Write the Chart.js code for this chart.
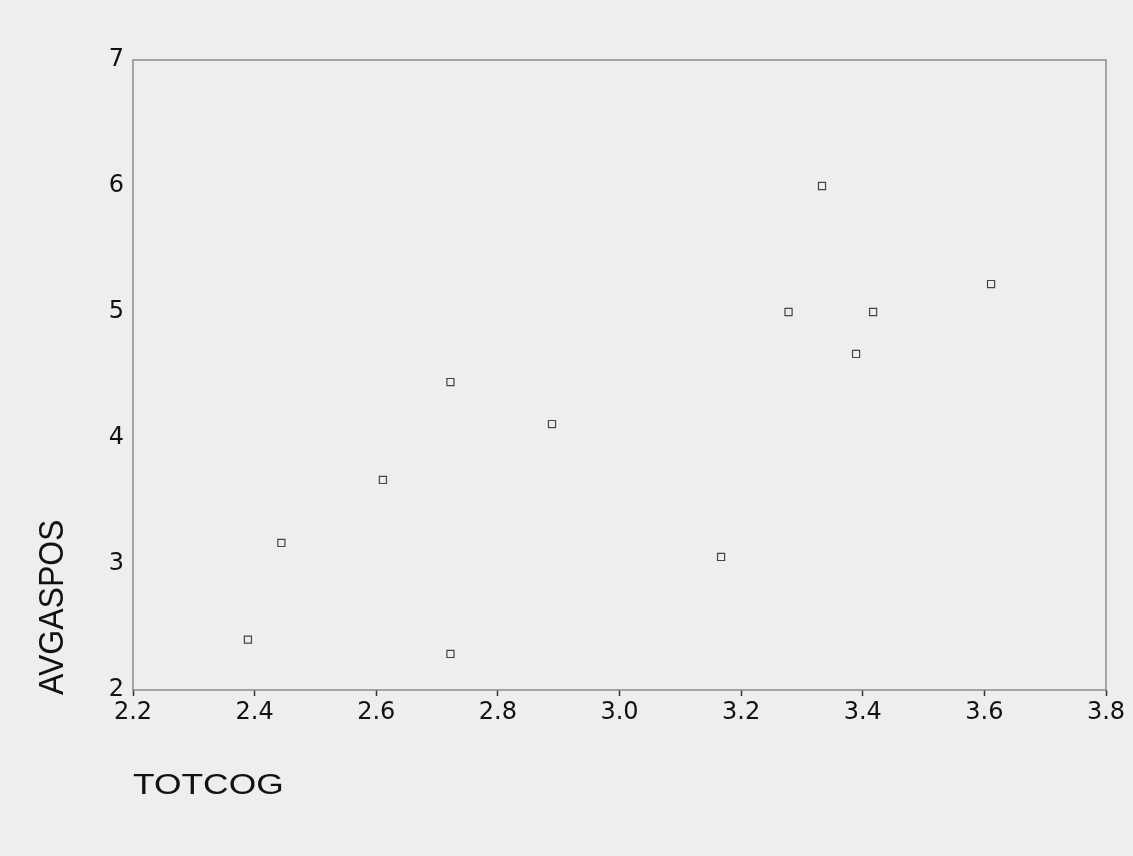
<!DOCTYPE html>
<html>
<head>
<meta charset="utf-8">
<script src="https://cdn.jsdelivr.net/npm/chart.js@4/dist/chart.umd.min.js"></script>
<style>
  html, body { margin: 0; padding: 0; background: #eeeeee; }
  #wrap { width: 1133px; height: 856px; }
</style>
</head>
<body>
<div id="wrap"><canvas id="c" width="1133" height="856"></canvas></div>
<script>
// Scatter of TOTCOG (x) against AVGASPOS (y)
const totcog   = [2.389, 2.444, 2.611, 2.722, 2.722, 2.889, 3.167, 3.278, 3.333, 3.389, 3.417, 3.611];
const avgaspos = [2.400, 3.167, 3.667, 4.444, 2.286, 4.111, 3.056, 5.000, 6.000, 4.667, 5.000, 5.222];
const xTicks = [2.2, 2.4, 2.6, 2.8, 3.0, 3.2, 3.4, 3.6, 3.8];
const yTicks = [2, 3, 4, 5, 6, 7];
const xTitle = 'TOTCOG';
const yTitle = 'AVGASPOS';

const points = totcog.map((x, i) => ({ x: x, y: avgaspos[i] }));

const TICK_FONT = '"DejaVu Sans", "Liberation Sans", sans-serif';
const TITLE_FONT = '"Liberation Sans", Arial, sans-serif';
const AXIS = '#8c8c8c';

// page background and the frame around the plot area
const framePlugin = {
  id: 'frame',
  beforeDraw(chart) {
    const ctx = chart.ctx;
    ctx.save();
    ctx.fillStyle = '#eeeeee';
    ctx.fillRect(0, 0, chart.width, chart.height);
    ctx.restore();
  },
  afterDatasetsDraw(chart) {
    const { ctx, chartArea: a } = chart;
    ctx.save();
    ctx.strokeStyle = AXIS;
    ctx.lineWidth = 1.5;
    ctx.strokeRect(a.left, a.top, a.right - a.left, a.bottom - a.top);
    ctx.restore();
  }
};

// axis titles in a wide sans face: x title under the left end of the axis,
// y title rotated and running up from the bottom left
const titlePlugin = {
  id: 'axisTitles',
  afterDraw(chart) {
    const { ctx, chartArea: a } = chart;
    ctx.save();
    ctx.fillStyle = '#111';
    ctx.textBaseline = 'middle';
    ctx.textAlign = 'left';

    ctx.save();
    ctx.font = '29px ' + TITLE_FONT;
    ctx.translate(a.left, 786);
    ctx.scale(1.22, 1);
    ctx.fillText(xTitle, 0, 0);
    ctx.restore();

    ctx.save();
    ctx.font = '32px ' + TITLE_FONT;
    ctx.translate(53, a.bottom + 5);
    ctx.scale(1.1, 1);
    ctx.rotate(-Math.PI / 2);
    ctx.fillText(yTitle, 0, 0);
    ctx.restore();

    ctx.restore();
  }
};

new Chart(document.getElementById('c'), {
  type: 'scatter',
  data: {
    datasets: [{
      data: points,
      pointStyle: 'rect',
      pointRadius: 5,
      pointHoverRadius: 5,
      pointBorderWidth: 1.2,
      pointBorderColor: '#444444',
      pointBackgroundColor: 'rgba(0,0,0,0)'
    }]
  },
  options: {
    responsive: false,
    animation: false,
    layout: { padding: { left: 0, right: 27, top: 60, bottom: 0 } },
    plugins: { legend: { display: false }, tooltip: { enabled: false } },
    scales: {
      x: {
        type: 'linear',
        min: 2.2,
        max: 3.8,
        afterFit(scale) { scale.height = 166; },
        afterBuildTicks(scale) { scale.ticks = xTicks.map(v => ({ value: v })); },
        grid: { drawOnChartArea: false, drawTicks: true, tickLength: 6, tickColor: '#333', tickWidth: 1.5 },
        border: { display: false },
        ticks: {
          padding: 2,
          color: '#111',
          font: { family: TICK_FONT, size: 24 },
          maxRotation: 0,
          callback: v => Number(v).toFixed(1)
        }
      },
      y: {
        type: 'linear',
        min: 2,
        max: 7,
        afterFit(scale) { scale.width = 133; },
        afterBuildTicks(scale) { scale.ticks = yTicks.map(v => ({ value: v })); },
        grid: { drawOnChartArea: false, drawTicks: false },
        border: { display: false },
        ticks: {
          padding: 9,
          color: '#111',
          font: { family: TICK_FONT, size: 24 },
          callback: v => String(v)
        }
      }
    }
  },
  plugins: [framePlugin, titlePlugin]
});
</script>
</body>
</html>
